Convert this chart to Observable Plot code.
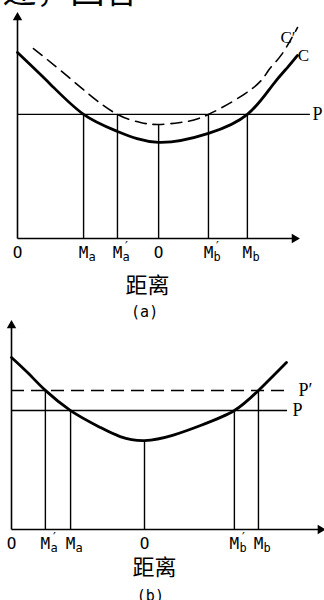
<!DOCTYPE html>
<html><head><meta charset="utf-8">
<script src="https://cdn.jsdelivr.net/npm/d3@7"></script>
<script src="https://cdn.jsdelivr.net/npm/@observablehq/plot@0.6"></script>
<style>html,body{margin:0;padding:0;background:#fff;overflow:hidden;} svg{display:block;}</style>
</head><body><div id="chart"></div>
<script>
const headText = "述，回答";
// ---------- Panel (a) ----------
const distC  = [0, 11.8, 23.6, 35.7, 50.4, 68.2, 82.1, 91.0, 96.4, 100];
const costC  = [83.0, 68.8, 55.4, 47.8, 42.9, 46.9, 55.4, 68.3, 76.3, 81.7];
const distC2 = [5.7, 15.4, 26.1, 35.7, 43.9, 50.4, 58.2, 68.2, 83.9, 89.6, 94.3, 100];
const costC2 = [84.8, 75.0, 63.8, 55.4, 51.8, 50.9, 51.8, 55.4, 67.0, 75.0, 82.1, 94.2];
const priceA = 55.4;
const tickPosA   = [0, 23.6, 35.7, 50.4, 68.2, 82.1];
const tickMainA  = ["O", "M", "M", "O", "M", "M"];
const tickSubA   = ["", "a", "a", "", "b", "b"];
const tickPrimeA = ["", "", "′", "", "′", ""];
const guideTopA  = [null, 55.4, 55.4, 50.9, 55.4, 55.4];
// ---------- Panel (b) ----------
const distB  = [0, 6.1, 12.1, 21.1, 31.8, 47.5, 67.5, 79.6, 88.2, 98.2];
const costB  = [76.8, 69.6, 62.1, 53.1, 45.5, 39.7, 46.4, 53.1, 62.1, 74.6];
const priceB  = 53.1;
const priceB2 = 62.1;
const tickPosB   = [0, 12.1, 21.1, 47.5, 79.6, 88.2];
const tickMainB  = ["O", "M", "M", "O", "M", "M"];
const tickSubB   = ["", "a", "a", "", "b", "b"];
const tickPrimeB = ["", "′", "", "", "′", ""];
const guideTopB  = [null, 62.1, 53.1, 39.7, 53.1, 62.1];
const axisLabel = "距离";

const mono = "DejaVu Sans Mono";
const serif = "Liberation Serif";
const cjk = "Noto Sans CJK SC";

const toPts = (xs, ys) => xs.map((x, i) => ({x, y: ys[i]}));
const toTicks = (pos, main, sub, prime, top) => pos.map((x, i) => ({x, main: main[i], sub: sub[i], prime: prime[i], top: top[i]}));

function tickMarks(ticks) {
  return [
    Plot.ruleX(ticks.filter(d => d.top != null), {x: "x", y1: 0, y2: "top", stroke: "black", strokeWidth: 1.4}),
    Plot.text(ticks, {x: "x", y: 0, text: "main", dy: 14, fontFamily: mono, fontSize: 16, fill: "black"}),
    Plot.text(ticks, {x: "x", y: 0, text: "sub", dx: 5, dy: 19, textAnchor: "start", fontFamily: mono, fontSize: 12, fill: "black"}),
    Plot.text(ticks, {x: "x", y: 0, text: "prime", dx: 5, dy: 7, textAnchor: "start", fontFamily: mono, fontSize: 13, fill: "black"})
  ];
}

const plotA = Plot.plot({
  width: 324, height: 320, margin: 0,
  style: {overflow: "visible", background: "none"},
  x: {domain: [0, 100], range: [17, 297], axis: null},
  y: {domain: [0, 100], range: [238, 14], axis: null},
  marks: [
    Plot.text([headText], {frameAnchor: "top-left", dx: 2, dy: 2, lineAnchor: "bottom", textAnchor: "start", fontFamily: cjk, fontSize: 34, fill: "black"}),
    Plot.link([{x1: 0, y1: 0, x2: 0, y2: 100}, {x1: 0, y1: 0, x2: 100, y2: 0}], {x1: "x1", y1: "y1", x2: "x2", y2: "y2", stroke: "black", strokeWidth: 1.6}),
    Plot.dot([{x: 0, y: 100}], {x: "x", y: "y", symbol: "triangle", r: 3.5, fill: "black", dy: 3}),
    Plot.dot([{x: 100, y: 0}], {x: "x", y: "y", symbol: "triangle", r: 3.5, fill: "black", rotate: 90, dx: -3}),
    Plot.ruleY([priceA], {x1: 0, x2: 104.6, stroke: "black", strokeWidth: 1.4}),
    ...tickMarks(toTicks(tickPosA, tickMainA, tickSubA, tickPrimeA, guideTopA)),
    Plot.line(toPts(distC2, costC2), {x: "x", y: "y", curve: "natural", stroke: "black", strokeWidth: 1.6, strokeDasharray: "11,7"}),
    Plot.line(toPts(distC, costC), {x: "x", y: "y", curve: "natural", stroke: "black", strokeWidth: 2.8}),
    Plot.text(["C′"], {x: 96.6, y: 89.7, fontFamily: serif, fontSize: 17, fill: "black"}),
    Plot.text(["C"], {x: 102.1, y: 81.7, fontFamily: serif, fontSize: 17, fill: "black"}),
    Plot.text(["P"], {x: 105.4, y: priceA, textAnchor: "start", fontFamily: serif, fontSize: 18, fill: "black"}),
    Plot.text([axisLabel], {x: 46.4, y: -21, fontFamily: cjk, fontSize: 22, fill: "black"}),
    Plot.text(["(a)"], {x: 45.4, y: -33, fontFamily: mono, fontSize: 15, fill: "black"})
  ]
});

const plotB = Plot.plot({
  width: 324, height: 280, margin: 0,
  style: {overflow: "visible", background: "none"},
  x: {domain: [0, 100], range: [11, 291], axis: null},
  y: {domain: [0, 100], range: [209, -15], axis: null},
  marks: [
    Plot.link([{x1: 0, y1: 0, x2: 0, y2: 92.4}, {x1: 0, y1: 0, x2: 111.4, y2: 0}], {x1: "x1", y1: "y1", x2: "x2", y2: "y2", stroke: "black", strokeWidth: 1.6}),
    Plot.dot([{x: 0, y: 92.4}], {x: "x", y: "y", symbol: "triangle", r: 3.5, fill: "black", dy: 3}),
    Plot.dot([{x: 111.4, y: 0}], {x: "x", y: "y", symbol: "triangle", r: 3.5, fill: "black", rotate: 90, dx: -3}),
    Plot.ruleY([priceB2], {x1: 0, x2: 99.6, stroke: "black", strokeWidth: 1.5, strokeDasharray: "13,7"}),
    Plot.ruleY([priceB], {x1: 0, x2: 98.6, stroke: "black", strokeWidth: 1.4}),
    ...tickMarks(toTicks(tickPosB, tickMainB, tickSubB, tickPrimeB, guideTopB)),
    Plot.line(toPts(distB, costB), {x: "x", y: "y", curve: "natural", stroke: "black", strokeWidth: 2.8}),
    Plot.text(["P′"], {x: 102.5, y: priceB2, textAnchor: "start", fontFamily: serif, fontSize: 18, fill: "black"}),
    Plot.text(["P"], {x: 100.4, y: priceB, textAnchor: "start", fontFamily: serif, fontSize: 18, fill: "black"}),
    Plot.text([axisLabel], {x: 51.1, y: -17, fontFamily: cjk, fontSize: 22, fill: "black"}),
    Plot.text(["(b)"], {x: 49.6, y: -29.9, fontFamily: mono, fontSize: 15, fill: "black"})
  ]
});

document.getElementById("chart").append(plotA, plotB);
</script>
</body></html>
